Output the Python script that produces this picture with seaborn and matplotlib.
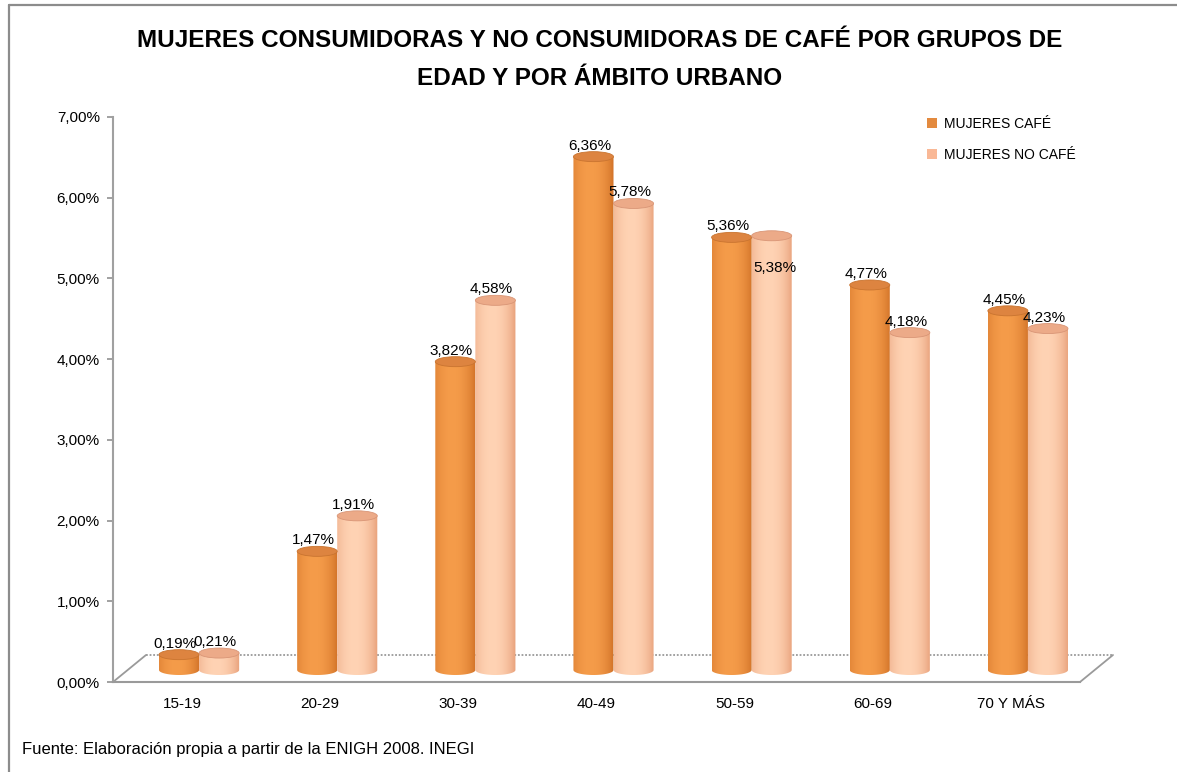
import numpy as np
import pandas as pd
import matplotlib
matplotlib.use("Agg")
import matplotlib.pyplot as plt
import matplotlib.patches as mpatches
from matplotlib import font_manager as fm
import seaborn as sns

# ---- data -------------------------------------------------------------
grupos = ["15-19", "20-29", "30-39", "40-49", "50-59", "60-69", "70 Y MÁS"]
series = ["MUJERES CAFÉ", "MUJERES NO CAFÉ"]
cafe = [0.19, 1.47, 3.82, 6.36, 5.36, 4.77, 4.45]
no_cafe = [0.21, 1.91, 4.58, 5.78, 5.38, 4.18, 4.23]
y_ticks = [0, 1, 2, 3, 4, 5, 6, 7]

titulo = ["MUJERES CONSUMIDORAS Y NO CONSUMIDORAS DE CAFÉ POR GRUPOS DE",
          "EDAD Y POR ÁMBITO URBANO"]
fuente = "Fuente: Elaboración propia a partir de la ENIGH 2008. INEGI"

df = pd.DataFrame({
    "grupo": grupos * 2,
    "serie": [series[0]] * len(grupos) + [series[1]] * len(grupos),
    "valor": cafe + no_cafe,
})

# ---- style ------------------------------------------------------------
sns.set_style("white")
avail = {f.name for f in fm.fontManager.ttflist}
base = "Liberation Sans" if "Liberation Sans" in avail else "DejaVu Sans"
narrow = "Liberation Sans Narrow" if "Liberation Sans Narrow" in avail else None
plt.rcParams["font.family"] = [base, "DejaVu Sans"]
for k in ("text.color", "axes.labelcolor", "xtick.labelcolor", "ytick.labelcolor"):
    plt.rcParams[k] = "black"

# the narrow face is preferred for title/legend; otherwise shrink the size
title_fs, legend_fs = (20, 11) if narrow else (17.5, 10)
narrow = narrow or base

W, H = 1177, 772
fig = plt.figure(figsize=(W / 100, H / 100), dpi=100)
fig.patch.set_facecolor("white")


def fx(px):
    return px / W


def fy(py):
    return 1 - py / H


# plot area in pixels: front axis from x=113 to 1080, 0% at y=682, 7% at y=117
left_px, right_px, bot_px, top_px = 113, 1080, 682, 117
ax = fig.add_axes([fx(left_px), fy(bot_px), (right_px - left_px) / W, (bot_px - top_px) / H])

palette = {series[0]: "#E38A3F", series[1]: "#F9B896"}
sns.barplot(data=df, x="grupo", y="valor", hue="serie", order=grupos,
            hue_order=series, palette=palette, width=0.58, gap=0,
            linewidth=0, saturation=1, ax=ax)

# scales
cat_px = (right_px - left_px) / len(grupos)       # pixels per category
unit_px = (bot_px - top_px) / 7.0                  # pixels per 1 %
depth_dx = 17                                      # bars sit deeper than the front axis
base_px = 670                                      # floor level of the cylinders
x_off = (cat_px / 2 + depth_dx) / cat_px
xlim = (-x_off, len(grupos) - x_off)
y_shift = (bot_px - base_px) / unit_px
ylim = (-y_shift, 7 - y_shift)
ell_h = 10 / unit_px

# cylinder shading
grad_x = np.linspace(0, 1, 64)
prof = np.clip(1 - ((grad_x - 0.42) / 0.62) ** 2, 0, 1) ** 0.8


def ramp(c_edge, c_mid):
    e = np.array(matplotlib.colors.to_rgb(c_edge))
    m = np.array(matplotlib.colors.to_rgb(c_mid))
    return (e[None, :] + (m - e)[None, :] * prof[:, None])[None, :, :]


shade = {
    series[0]: (ramp("#C9681F", "#F59C4A"), "#DD8440", "#C97430"),
    series[1]: (ramp("#E2946C", "#FFD3B4"), "#ECAA88", "#D99576"),
}

t = np.linspace(0, -np.pi, 40)
for serie, cont in zip(series, ax.containers):
    img, top_c, rim_c = shade[serie]
    for bar in cont:
        x0, w, h = bar.get_x(), bar.get_width(), bar.get_height()
        cx = x0 + w / 2
        verts = [(x0, h), (x0 + w, h)]
        verts += [(cx + w / 2 * np.cos(a), ell_h / 2 * np.sin(a)) for a in t]
        clip = mpatches.Polygon(verts, closed=True, facecolor="none", edgecolor="none")
        ax.add_patch(clip)
        im = ax.imshow(img, extent=[x0, x0 + w, -ell_h / 2, h], aspect="auto",
                       interpolation="bicubic", zorder=2)
        im.set_clip_path(clip)
        ax.add_patch(mpatches.Ellipse((cx, h), w, ell_h, facecolor=top_c,
                                      edgecolor=rim_c, lw=0.6, zorder=3))
        bar.set_visible(False)

# value labels, nudged in pixels
nudge = {(grupos[4], series[1]): (7, -43)}
for serie, cont in zip(series, ax.containers):
    for g, bar in zip(grupos, cont):
        h = bar.get_height()
        cx = bar.get_x() + bar.get_width() / 2
        dx, dy = nudge.get((g, serie), (0, 0))
        ax.annotate(f"{h:.2f}".replace(".", ",") + "%", (cx, h + ell_h / 2),
                    xytext=(-4 + dx, 2 + dy), textcoords="offset pixels",
                    ha="center", va="baseline", fontsize=11, color="black",
                    zorder=5, annotation_clip=False)

# axes formatting
ax.set_xlim(*xlim)
ax.set_ylim(*ylim)
ax.set_xlabel("")
ax.set_ylabel("")
ax.set_xticks([i - depth_dx / cat_px for i in range(len(grupos))], labels=grupos)
ax.set_xticks([k - x_off for k in range(len(grupos) + 1)], minor=True)
ax.tick_params(axis="x", which="major", length=0, pad=11, labelsize=11, labelcolor="black")
ax.tick_params(axis="x", which="minor", length=5, width=1.3, color="#9a9a9a", direction="out")
ax.set_yticks([v - y_shift for v in y_ticks],
              labels=[f"{v:.2f}".replace(".", ",") + "%" for v in y_ticks])
ax.tick_params(axis="y", length=4.5, width=1.3, color="#9a9a9a", pad=5,
               labelsize=11, labelcolor="black", left=True)
for s in ("top", "right"):
    ax.spines[s].set_visible(False)
ax.spines["left"].set_color("#a0a0a0")
ax.spines["left"].set_linewidth(1.5)
ax.spines["bottom"].set_color("#9a9a9a")
ax.spines["bottom"].set_linewidth(1.5)
ax.spines["bottom"].set_linestyle((0, (1, 1)))
ax.patch.set_alpha(0)

# floor outline (back edge and sides)
floor = dict(color="#9a9a9a", lw=1.3, transform=fig.transFigure, clip_on=False, zorder=0.5)
ax.plot([fx(146), fx(1113)], [fy(655), fy(655)], linestyle=(0, (1, 1)), **floor)
ax.plot([fx(113), fx(146)], [fy(682), fy(655)], **floor)
ax.plot([fx(1080), fx(1113)], [fy(682), fy(655)], **floor)

# legend
sns.move_legend(ax, "upper left", bbox_to_anchor=(fx(927), fy(117)),
                bbox_transform=fig.transFigure, title=None, frameon=False,
                handlelength=0.75, handleheight=0.75, handletextpad=0.5,
                labelspacing=1.2, borderpad=0, borderaxespad=0,
                prop={"family": narrow, "size": legend_fs})

# title and source
fig.text(fx(600), fy(47), titulo[0], ha="center", va="baseline", fontsize=title_fs,
         fontweight="bold", family=narrow, color="black")
fig.text(fx(600), fy(85), titulo[1], ha="center", va="baseline", fontsize=title_fs,
         fontweight="bold", family=narrow, color="black")
fig.text(fx(22), fy(754), fuente, ha="left", va="baseline", fontsize=12,
         family=base, color="black")

# chart frame (top and left edges)
frame = dict(color="#8c8c8c", lw=1.6, transform=fig.transFigure, clip_on=False)
fig.add_artist(plt.Line2D([fx(9), 1], [fy(5), fy(5)], **frame))
fig.add_artist(plt.Line2D([fx(9), fx(9)], [fy(5), 0], **frame))

fig.savefig("out.png", dpi=100)
